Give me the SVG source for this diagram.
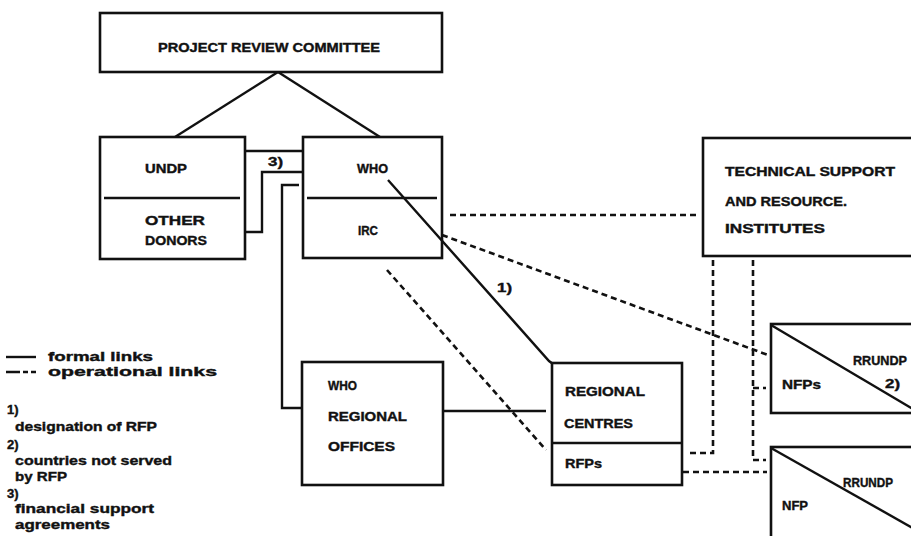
<svg xmlns="http://www.w3.org/2000/svg" width="911" height="536" viewBox="0 0 911 536">
<style>
.box{fill:none;stroke:#111;stroke-width:2.6}
.ln{fill:none;stroke:#111;stroke-width:2.4}
.dl{fill:none;stroke:#111;stroke-width:2.6;stroke-dasharray:6 4}
.t{font-family:"Liberation Sans",Arial,sans-serif;font-weight:bold;font-size:13px;fill:#111;stroke:#111;stroke-width:0.4}
.s{font-family:"Liberation Sans",Arial,sans-serif;font-weight:bold;font-size:13px;fill:#111;stroke:#111;stroke-width:0.4}
</style>
<rect width="911" height="536" fill="#fff"/>
<g id="connectors">
<path class="ln" d="M278,72 L175,137"/>
<path class="ln" d="M278,72 L380,137"/>
<path class="ln" d="M245,151 H303"/>
<path class="ln" d="M303,172 H262 V232 H245"/>
<path class="ln" d="M299,185 H282 V408 H302"/>
<path class="ln" d="M443,411 H546"/>
<path class="ln" d="M388,180 L549,361 L553,364"/>
<path class="dl" d="M450,215 H700"/>
<path class="dl" d="M442,235 L768,355"/>
<path class="dl" d="M387,270 L546,450"/>
<path class="dl" d="M713,260 V453 H688"/>
<path class="dl" d="M753,260 V460 H766"/>
<path class="dl" d="M753,388 H766"/>
<path class="dl" d="M683,472 H767"/>
<text class="t" x="268" y="166" textLength="15" lengthAdjust="spacingAndGlyphs">3)</text>
<text class="t" x="497" y="292" textLength="15" lengthAdjust="spacingAndGlyphs">1)</text>
</g>
<g id="project-review-committee">
<rect class="box" x="100" y="13" width="342" height="59"/>
<text class="t" x="158" y="52" textLength="222" lengthAdjust="spacingAndGlyphs">PROJECT REVIEW COMMITTEE</text>
</g>
<g id="undp">
<rect class="box" x="100" y="137" width="145" height="122"/>
<line class="ln" x1="104" y1="198" x2="240" y2="198"/>
<text class="t" x="145" y="173" textLength="42" lengthAdjust="spacingAndGlyphs">UNDP</text>
<text class="t" x="145" y="225" textLength="60" lengthAdjust="spacingAndGlyphs">OTHER</text>
<text class="t" x="145" y="245" textLength="62" lengthAdjust="spacingAndGlyphs">DONORS</text>
</g>
<g id="who">
<rect class="box" x="303" y="137" width="139" height="121"/>
<line class="ln" x1="307" y1="198" x2="437" y2="198"/>
<text class="t" x="357" y="173" textLength="31" lengthAdjust="spacingAndGlyphs">WHO</text>
<text class="t" x="358" y="235" textLength="20" lengthAdjust="spacingAndGlyphs">IRC</text>
</g>
<g id="technical-support">
<rect class="box" x="703" y="138" width="240" height="118"/>
<text class="t" x="725" y="176" textLength="170" lengthAdjust="spacingAndGlyphs">TECHNICAL SUPPORT</text>
<text class="t" x="725" y="206" textLength="122" lengthAdjust="spacingAndGlyphs">AND RESOURCE.</text>
<text class="t" x="725" y="233" textLength="100" lengthAdjust="spacingAndGlyphs">INSTITUTES</text>
</g>
<g id="who-regional-offices">
<rect class="box" x="302" y="362" width="141" height="123"/>
<text class="t" x="328" y="390" textLength="29" lengthAdjust="spacingAndGlyphs">WHO</text>
<text class="t" x="328" y="421" textLength="79" lengthAdjust="spacingAndGlyphs">REGIONAL</text>
<text class="t" x="328" y="451" textLength="67" lengthAdjust="spacingAndGlyphs">OFFICES</text>
</g>
<g id="regional-centres">
<rect class="box" x="552" y="363" width="130" height="122"/>
<line class="ln" x1="552" y1="443" x2="682" y2="443"/>
<text class="t" x="565" y="396" textLength="80" lengthAdjust="spacingAndGlyphs">REGIONAL</text>
<text class="t" x="564" y="428" textLength="69" lengthAdjust="spacingAndGlyphs">CENTRES</text>
<text class="t" x="565" y="468" textLength="37" lengthAdjust="spacingAndGlyphs">RFPs</text>
</g>
<g id="nfps-rrundp">
<rect class="box" x="771" y="324" width="200" height="89"/>
<line class="ln" x1="771" y1="325" x2="918" y2="412"/>
<text class="t" x="853" y="365" textLength="54" lengthAdjust="spacingAndGlyphs">RRUNDP</text>
<text class="t" x="885" y="388" textLength="15" lengthAdjust="spacingAndGlyphs">2)</text>
<text class="t" x="782" y="389" textLength="39" lengthAdjust="spacingAndGlyphs">NFPs</text>
</g>
<g id="nfp-rrundp">
<rect class="box" x="771" y="447" width="200" height="100"/>
<line class="ln" x1="771" y1="448" x2="918" y2="531"/>
<text class="t" x="843" y="487" textLength="50" lengthAdjust="spacingAndGlyphs">RRUNDP</text>
<text class="t" x="782" y="510" textLength="26" lengthAdjust="spacingAndGlyphs">NFP</text>
</g>
<g id="legend">
<line class="ln" x1="6" y1="357" x2="36" y2="357"/>
<path class="ln" d="M6,372 H20 M23,372 H28 M31,372 H36"/>
<text class="s" x="48" y="361" textLength="105" lengthAdjust="spacingAndGlyphs">formal links</text>
<text class="s" x="48" y="376" textLength="169" lengthAdjust="spacingAndGlyphs">operational links</text>
<text class="s" x="7" y="414" font-size="12">1)</text>
<text class="s" x="15" y="431" textLength="142" lengthAdjust="spacingAndGlyphs">designation of RFP</text>
<text class="s" x="7" y="449" font-size="12">2)</text>
<text class="s" x="15" y="465" textLength="157" lengthAdjust="spacingAndGlyphs">countries not served</text>
<text class="s" x="15" y="481" textLength="52" lengthAdjust="spacingAndGlyphs">by RFP</text>
<text class="s" x="7" y="498" font-size="12">3)</text>
<text class="s" x="15" y="513" textLength="139" lengthAdjust="spacingAndGlyphs">financial support</text>
<text class="s" x="15" y="529" textLength="95" lengthAdjust="spacingAndGlyphs">agreements</text>
</g>
</svg>
